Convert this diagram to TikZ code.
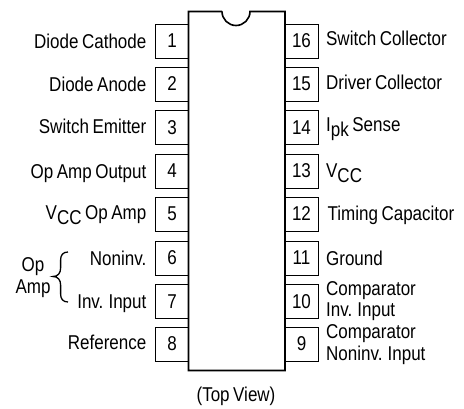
\documentclass[tikz,border=0pt]{standalone}
\usepackage{fontspec}
\setmainfont[FakeStretch=0.85,WordSpace=0.75]{Liberation Sans}
\usepackage{tikz}
\usetikzlibrary{positioning}
\newcommand{\subtxt}[1]{\raisebox{-5pt}{#1}}

\begin{document}
\begin{tikzpicture}[x=1pt,y=-1pt,
    every node/.style={font=\fontsize{20}{22}\selectfont,inner sep=0pt},
    pinbox/.style={draw,line width=0.9pt,minimum width=33pt,minimum height=34pt},
    lname/.style={anchor=base east},
    rname/.style={anchor=base west}]

  \useasboundingbox (0,0) rectangle (464,408);

  % pins, left row
  \node [pinbox] (p1) at (172,41) {1};
  \node [pinbox] (p2) at (172,84) {2};
  \node [pinbox] (p3) at (172,127.7) {3};
  \node [pinbox] (p4) at (172,171) {4};
  \node [pinbox] (p5) at (172,214) {5};
  \node [pinbox] (p6) at (172,258) {6};
  \node [pinbox] (p7) at (172,301.5) {7};
  \node [pinbox] (p8) at (172,344) {8};

  % pins, right row
  \node [pinbox] (p16) at (301.5,41) {16};
  \node [pinbox] (p15) at (301.5,84) {15};
  \node [pinbox] (p14) at (301.5,127.7) {14};
  \node [pinbox] (p13) at (301.5,171) {13};
  \node [pinbox] (p12) at (301.5,214) {12};
  \node [pinbox] (p11) at (301.5,258) {11};
  \node [pinbox] (p10) at (301.5,301.5) {10};
  \node [pinbox] (p9) at (301.5,344) {9};

  % package outline with notch
  \draw [line width=1.6pt,fill=none]
  (222,11.5) -- (188.5,11.5) -- (188.5,370.5) -- (285,370.5) -- (285,11.5) -- (250,11.5)
  arc [start angle=0,end angle=180,radius=14] ;

  % left names
  \node [lname,left=8.5pt of p1.west,yshift=-7pt,anchor=base east] (n1) {Diode Cathode};
  \node [lname,left=8.5pt of p2.west,yshift=-7pt,anchor=base east] (n2) {Diode Anode};
  \node [lname,left=8.5pt of p3.west,yshift=-6pt,anchor=base east] (n3) {Switch Emitter};
  \node [lname,left=8.5pt of p4.west,yshift=-7pt,anchor=base east] (n4) {Op Amp Output};
  \node [lname,left=8.5pt of p5.west,yshift=-5pt,anchor=base east] (n5) {V\subtxt{CC} Op Amp};
  \node [lname,left=8.5pt of p6.west,yshift=-7pt,anchor=base east] (n6) {Noninv.};
  \node [lname,left=8.5pt of p7.west,yshift=-7pt,anchor=base east] (n7) {Inv. Input};
  \node [lname,left=8.5pt of p8.west,yshift=-5pt,anchor=base east] (n8) {Reference};

  % right names
  \node [rname,right=7.5pt of p16.east,yshift=-4pt,anchor=base west] (n16) {Switch Collector};
  \node [rname,right=7.5pt of p15.east,yshift=-5pt,anchor=base west] (n15) {Driver Collector};
  \node [rname,right=7.5pt of p14.east,yshift=-4pt,anchor=base west] (n14) {I\subtxt{pk} Sense};
  \node [rname,right=7.5pt of p13.east,yshift=-6pt,anchor=base west] (n13) {V\subtxt{CC}};
  \node [rname,right=9pt of p12.east,yshift=-6pt,anchor=base west] (n12) {Timing Capacitor};
  \node [rname,right=7.5pt of p11.east,yshift=-7pt,anchor=base west] (n11) {Ground};
  \node [rname,right=7.5pt of p10.east,yshift=6.5pt,anchor=base west] (n10a) {Comparator};
  \node [below=21pt of n10a.base west,anchor=base west] (n10b) {Inv. Input};
  \node [rname,right=7.5pt of p9.east,yshift=6pt,anchor=base west] (n9a) {Comparator};
  \node [below=22pt of n9a.base west,anchor=base west] (n9b) {Noninv. Input};

  % brace
  \draw [line width=1.3pt]
  (68,252) .. controls (63,252) and (60.6,255) .. (60.6,260) -- (60.6,268)
  .. controls (60.6,273) and (58,276.5) .. (53,276.5)
  .. controls (58,276.5) and (60.6,280) .. (60.6,285) -- (60.6,294)
  .. controls (60.6,299) and (63,302) .. (68,302);
  \node (opamp1) at (33,267) {Op};
  \node (opamp2) at (33,289) {Amp};

  \node (topview) at (236,396) {(Top View)};

\end{tikzpicture}
\end{document}
